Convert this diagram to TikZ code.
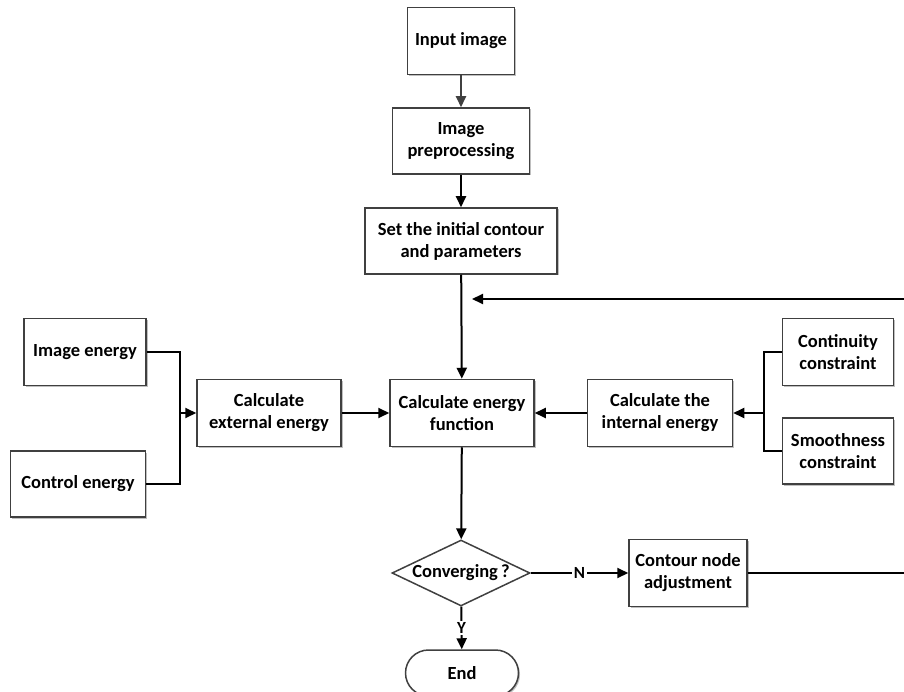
\documentclass[tikz,border=0pt]{standalone}
\usepackage{fontspec}
\setmainfont{Carlito}
\usetikzlibrary{arrows.meta,shapes.geometric,shadows}

\tikzset{
  box/.style={draw=black!75, line width=1.5pt, fill=white, align=center,
    inner sep=2pt, font=\fontsize{18.5}{22}\selectfont\bfseries,
    drop shadow={shadow xshift=1.5pt, shadow yshift=-1.5pt, fill=black!25, opacity=1}},
  decide/.style={draw=black!75, line width=1.5pt, fill=white, diamond, inner sep=0pt},
  stop/.style={box, rounded corners=23pt},
  flow/.style={line width=2pt, -{Triangle[length=11pt,width=10pt]}},
  wire/.style={line width=2pt},
  tag/.style={fill=white, inner sep=1.5pt, font=\fontsize{17}{18}\selectfont\bfseries}
}

\begin{document}
\begin{tikzpicture}[x=1pt,y=-1pt]
  \useasboundingbox (0,0) rectangle (904,692);

  % main column
  \node[box, minimum width=107pt, minimum height=67pt] (input) at (461,41) {Input image};
  \node[box, minimum width=137pt, minimum height=66pt] (prep) at (461,141) {Image\\preprocessing};
  \node[box, minimum width=192pt, minimum height=66pt] (init) at (461,241) {Set the initial contour\\and parameters};
  \node[box, minimum width=144pt, minimum height=67pt] (func) at (462,413) {Calculate energy\\function};
  \node[decide, minimum width=138pt, minimum height=66pt,
    label={[font=\fontsize{18.5}{22}\selectfont\bfseries]center:Converging\,?}] (conv) at (461,573) {};
  \node[stop, minimum width=113pt, minimum height=46pt] (end) at (462,673) {End};

  % left side
  \node[box, minimum width=122pt, minimum height=67pt] (imgE) at (85,352) {Image energy};
  \node[box, minimum width=135pt, minimum height=66pt] (ctrlE) at (78,484) {Control energy};
  \node[box, minimum width=144pt, minimum height=67pt] (ext) at (269,413) {Calculate\\external energy};

  % right side
  \node[box, minimum width=145pt, minimum height=67pt] (int) at (660,413) {Calculate the\\internal energy};
  \node[box, minimum width=111pt, minimum height=67pt] (cont) at (838,352) {Continuity\\constraint};
  \node[box, minimum width=111pt, minimum height=66pt] (smooth) at (838,451) {Smoothness\\constraint};
  \node[box, minimum width=118pt, minimum height=67pt] (adj) at (688,573) {Contour node\\adjustment};

  % joints
  \coordinate (lj) at (180,413);
  \coordinate (rj) at (764,413);
  \coordinate (fbR) at (907,573);
  \coordinate (fbT) at (907,299);
  \coordinate (fbEnd) at (472,299);

  \draw[flow, black!75] (input) -- (prep);
  \draw[flow] (prep) -- (init);
  \draw[flow] (init) -- (func);
  \draw[flow] (func) -- (conv);

  \draw[wire] (imgE.east) -| (lj) |- (ctrlE.east);
  \draw[flow] (lj) -- (ext);
  \draw[flow] (ext) -- (func);

  \draw[wire] (cont.west) -| (rj) |- (smooth.west);
  \draw[flow] (rj) -- (int);
  \draw[flow] (int) -- (func);

  \draw[flow] (conv) -- node[tag] {N} (adj);
  \draw[flow] (conv) -- node[tag] {Y} (end);
  \draw[flow] (adj) -- (fbR) -- (fbT) -- (fbEnd);

\end{tikzpicture}
\end{document}
